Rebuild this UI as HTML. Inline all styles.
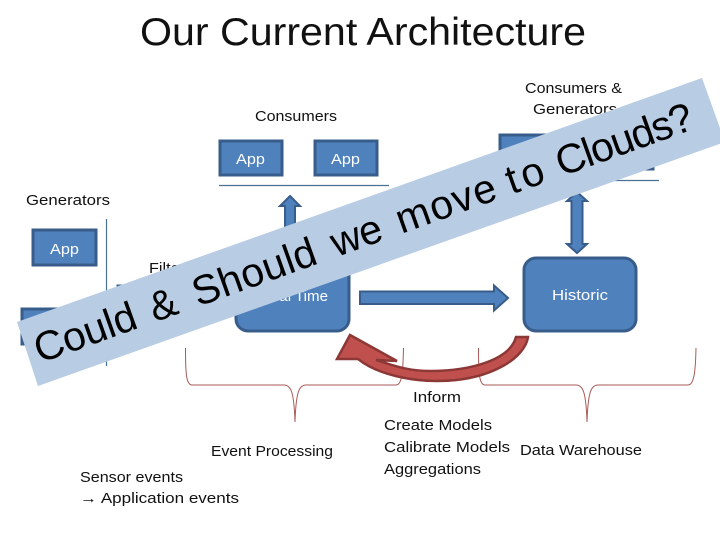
<!DOCTYPE html>
<html><head><meta charset="utf-8"><style>
html,body{margin:0;padding:0;background:#fff;width:720px;height:540px;overflow:hidden}
svg{display:block}
text{font-family:"Liberation Sans",sans-serif;font-size:15px;fill:#111}
.w{fill:#fff}
.box{fill:#4f81bd;stroke:#385d8a;stroke-width:3}
.ln{stroke:#4a7096;stroke-width:1.2;fill:none}
.br{stroke:#a85a58;stroke-width:1;fill:none}
.ar{fill:#4f81bd;stroke:#385d8a;stroke-width:2}
.b{font-size:41px;fill:#000}
</style></head><body>
<svg width="720" height="540" viewBox="0 0 720 540" xmlns="http://www.w3.org/2000/svg">
<text x="140" y="45" textLength="446" lengthAdjust="spacingAndGlyphs" style="font-size:39px">Our Current Architecture</text>
<text x="255" y="121" textLength="82" lengthAdjust="spacingAndGlyphs">Consumers</text>
<text x="525" y="93" textLength="97" lengthAdjust="spacingAndGlyphs">Consumers &amp;</text>
<text x="533" y="114" textLength="84" lengthAdjust="spacingAndGlyphs">Generators</text>
<text x="26" y="205" textLength="84" lengthAdjust="spacingAndGlyphs">Generators</text>
<text x="149" y="273" textLength="36" lengthAdjust="spacingAndGlyphs">Filter</text>

<rect class="box" x="220" y="141" width="62" height="34"/>
<rect class="box" x="315" y="141" width="62" height="34"/>
<rect class="box" x="33" y="230" width="63" height="35"/>
<rect class="box" x="22" y="309" width="63" height="35"/>
<rect class="box" x="118" y="286" width="60" height="34"/>
<rect class="box" x="500" y="135" width="153" height="34"/>
<text class="w" x="236" y="164" textLength="29" lengthAdjust="spacingAndGlyphs">App</text>
<text class="w" x="331" y="164" textLength="29" lengthAdjust="spacingAndGlyphs">App</text>
<text class="w" x="50" y="254" textLength="29" lengthAdjust="spacingAndGlyphs">App</text>

<line class="ln" x1="219" y1="185.500" x2="389" y2="185.500"/>
<line class="ln" x1="499" y1="180.500" x2="659" y2="180.500"/>
<line class="ln" x1="106.500" y1="219" x2="106.500" y2="366"/>

<path class="ar" d="M290,196 L300,206 L295,206 L295,256 L285,256 L285,206 L280,206 Z"/>
<path class="ar" d="M577,192 L587,201 L582.500,201 L582.500,244 L587,244 L577,253 L567,244 L571.500,244 L571.500,201 L567,201 Z"/>
<path class="ar" d="M360,291.500 L494,291.500 L494,285.500 L508,298 L494,310.500 L494,304 L360,304 Z"/>

<rect class="box" x="236" y="258" width="113" height="73" rx="12" ry="12"/>
<rect class="box" x="524" y="258" width="112" height="73" rx="12" ry="12"/>
<text class="w" x="260" y="301" textLength="68" lengthAdjust="spacingAndGlyphs">Real Time</text>
<text class="w" x="552" y="300" textLength="56" lengthAdjust="spacingAndGlyphs">Historic</text>

<path class="br" d="M185.500,348 C185.500,372 186,385 192,385 L284,385 C291,385 294,392 295,422 C296,392 299,385 306,385 L396,385 C402,385 403,372 403.500,348"/>
<path class="br" d="M478.500,348 C478.500,372 479,385 485,385 L576,385 C583,385 586,392 587,422 C588,392 591,385 598,385 L688,385 C694,385 695.500,372 696,348"/>

<path d="M528,337 C525,358 490,381 437,381 C412,381 378,375 358,359 L337,359 L350,335 L397,361 L376,360 C390,364 405,371 430,371 C470,371 510,360 516,337 Z" fill="#c0504d" stroke="#8c3836" stroke-width="2.500" stroke-linejoin="miter"/>

<text x="413" y="402" textLength="48" lengthAdjust="spacingAndGlyphs">Inform</text>
<text x="384" y="430" textLength="108" lengthAdjust="spacingAndGlyphs">Create Models</text>
<text x="384" y="452" textLength="126" lengthAdjust="spacingAndGlyphs">Calibrate Models</text>
<text x="384" y="474" textLength="97" lengthAdjust="spacingAndGlyphs">Aggregations</text>
<text x="520" y="455" textLength="122" lengthAdjust="spacingAndGlyphs">Data Warehouse</text>
<text x="211" y="456" textLength="122" lengthAdjust="spacingAndGlyphs">Event Processing</text>
<text x="80" y="482" textLength="103" lengthAdjust="spacingAndGlyphs">Sensor events</text>
<text x="80" y="503" textLength="159" lengthAdjust="spacingAndGlyphs">→ Application events</text>

<polygon points="17,322 702,78 725,142 38,386" fill="#b8cce4"/>
<g transform="translate(38,364) rotate(-19.7)">
<text class="b" x="2" y="0" textLength="106">Could</text>
<text class="b" x="124" y="0" textLength="32">&amp;</text>
<text class="b" x="170" y="0" textLength="129">Should</text>
<text class="b" x="317" y="0" textLength="52">we</text>
<text class="b" x="386" y="0" textLength="104">move</text>
<text class="b" x="503" y="0" textLength="38">to</text>
<text class="b" x="556" y="0" textLength="143">Clouds?</text>
</g>
</svg>
</body></html>
